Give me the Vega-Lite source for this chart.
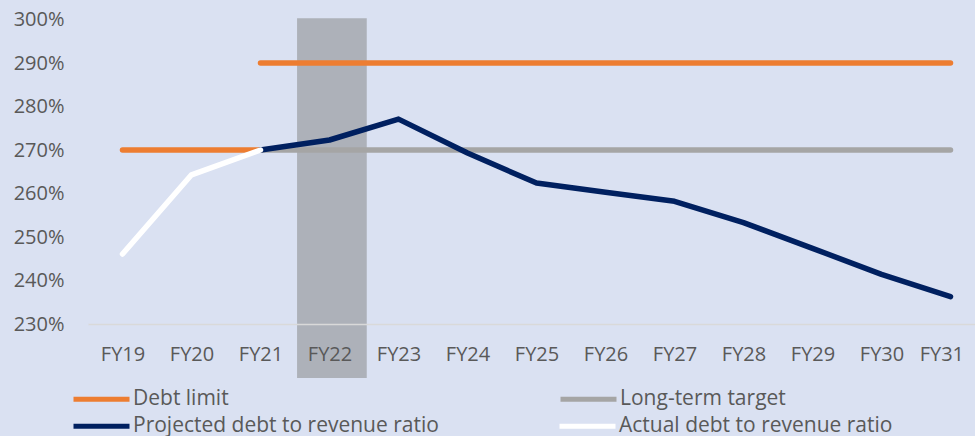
{
  "$schema": "https://vega.github.io/schema/vega-lite/v6.json",
  "autosize": {"type": "none"},
  "padding": {"left": 88, "top": 19.5, "right": 0, "bottom": 112},
  "width": 887,
  "height": 304.5,
  "background": "#dae1f2",
  "config": {
    "view": {"stroke": null},
    "font": "Open Sans",
    "axis": {"labelFont": "Open Sans", "labelFontSize": 20, "labelColor": "#595959", "grid": false, "ticks": false},
    "legend": {"labelFont": "Open Sans", "labelFontSize": 21, "labelColor": "#595959", "title": null, "orient": "none", "direction": "horizontal", "columns": 2, "symbolType": "stroke", "symbolSize": 3136, "symbolStrokeWidth": 5, "labelOffset": 1, "labelLimit": 400}
  },
  "datasets": {
    "shade": [{"label": "FY22", "start": 2021.53, "end": 2022.54, "low": 217.6, "high": 300.3}],
    "limits": [
      {"year": 2019, "value": 270, "series": "Debt limit", "seg": 1},
      {"year": 2020, "value": 270, "series": "Debt limit", "seg": 1},
      {"year": 2021, "value": 270, "series": "Debt limit", "seg": 1},
      {"year": 2021, "value": 290, "series": "Debt limit", "seg": 2},
      {"year": 2022, "value": 290, "series": "Debt limit", "seg": 2},
      {"year": 2023, "value": 290, "series": "Debt limit", "seg": 2},
      {"year": 2024, "value": 290, "series": "Debt limit", "seg": 2},
      {"year": 2025, "value": 290, "series": "Debt limit", "seg": 2},
      {"year": 2026, "value": 290, "series": "Debt limit", "seg": 2},
      {"year": 2027, "value": 290, "series": "Debt limit", "seg": 2},
      {"year": 2028, "value": 290, "series": "Debt limit", "seg": 2},
      {"year": 2029, "value": 290, "series": "Debt limit", "seg": 2},
      {"year": 2030, "value": 290, "series": "Debt limit", "seg": 2},
      {"year": 2031, "value": 290, "series": "Debt limit", "seg": 2},
      {"year": 2021, "value": 270, "series": "Long-term target", "seg": 1},
      {"year": 2022, "value": 270, "series": "Long-term target", "seg": 1},
      {"year": 2023, "value": 270, "series": "Long-term target", "seg": 1},
      {"year": 2024, "value": 270, "series": "Long-term target", "seg": 1},
      {"year": 2025, "value": 270, "series": "Long-term target", "seg": 1},
      {"year": 2026, "value": 270, "series": "Long-term target", "seg": 1},
      {"year": 2027, "value": 270, "series": "Long-term target", "seg": 1},
      {"year": 2028, "value": 270, "series": "Long-term target", "seg": 1},
      {"year": 2029, "value": 270, "series": "Long-term target", "seg": 1},
      {"year": 2030, "value": 270, "series": "Long-term target", "seg": 1},
      {"year": 2031, "value": 270, "series": "Long-term target", "seg": 1}
    ],
    "ratios": [
      {"year": 2021, "value": 270, "series": "Projected debt to revenue ratio"},
      {"year": 2022, "value": 272.3, "series": "Projected debt to revenue ratio"},
      {"year": 2023, "value": 277.1, "series": "Projected debt to revenue ratio"},
      {"year": 2024, "value": 269.3, "series": "Projected debt to revenue ratio"},
      {"year": 2025, "value": 262.4, "series": "Projected debt to revenue ratio"},
      {"year": 2026, "value": 260.3, "series": "Projected debt to revenue ratio"},
      {"year": 2027, "value": 258.2, "series": "Projected debt to revenue ratio"},
      {"year": 2028, "value": 253.3, "series": "Projected debt to revenue ratio"},
      {"year": 2029, "value": 247.4, "series": "Projected debt to revenue ratio"},
      {"year": 2030, "value": 241.4, "series": "Projected debt to revenue ratio"},
      {"year": 2031, "value": 236.3, "series": "Projected debt to revenue ratio"},
      {"year": 2019, "value": 246.1, "series": "Actual debt to revenue ratio"},
      {"year": 2020, "value": 264.3, "series": "Actual debt to revenue ratio"},
      {"year": 2021, "value": 270, "series": "Actual debt to revenue ratio"}
    ]
  },
  "layer": [
    {
      "data": {"name": "shade"},
      "mark": {"type": "rect", "color": "#adb1b9", "clip": false},
      "encoding": {
        "x": {"field": "start", "type": "quantitative", "scale": {"domain": [2018.5, 2031.355], "nice": false, "zero": false}, "title": null,
          "axis": {"values": [2019,2020,2021,2022,2023,2024,2025,2026,2027,2028,2029,2030,2031], "labelExpr": "'FY' + (datum.value - 2000)", "domainColor": "#d9d9d9", "domainWidth": 1.5, "labelPadding": 30, "labelBaseline": "middle", "labelFlush": 30, "labelFlushOffset": 13, "labelOverlap": false, "zindex": 1}},
        "x2": {"field": "end"},
        "y": {"field": "low", "type": "quantitative", "scale": {"domain": [230, 300], "nice": false, "zero": false}, "title": null,
          "axis": {"values": [230,240,250,260,270,280,290,300], "labelExpr": "datum.value + '%'", "domain": false, "labelPadding": 24, "labelFlush": false, "labelOverlap": false}},
        "y2": {"field": "high"}
      }
    },
    {
      "data": {"name": "limits"},
      "mark": {"type": "line", "strokeWidth": 5.5, "strokeCap": "round", "strokeJoin": "round"},
      "encoding": {
        "x": {"field": "year", "type": "quantitative"},
        "y": {"field": "value", "type": "quantitative"},
        "detail": {"field": "seg"},
        "color": {"field": "series", "type": "nominal",
          "scale": {"domain": ["Debt limit", "Long-term target"], "range": ["#ED7D31", "#A5A5A5"]},
          "legend": {"legendX": -17, "legendY": 349, "columnPadding": 321}}
      }
    },
    {
      "data": {"name": "ratios"},
      "mark": {"type": "line", "strokeWidth": 5.5, "strokeCap": "round", "strokeJoin": "round"},
      "encoding": {
        "x": {"field": "year", "type": "quantitative"},
        "y": {"field": "value", "type": "quantitative"},
        "stroke": {"field": "series", "type": "nominal",
          "scale": {"domain": ["Projected debt to revenue ratio", "Actual debt to revenue ratio"], "range": ["#002060", "#FFFFFF"]},
          "legend": {"legendX": -17, "legendY": 376, "columnPadding": 110}}
      }
    }
  ]
}
